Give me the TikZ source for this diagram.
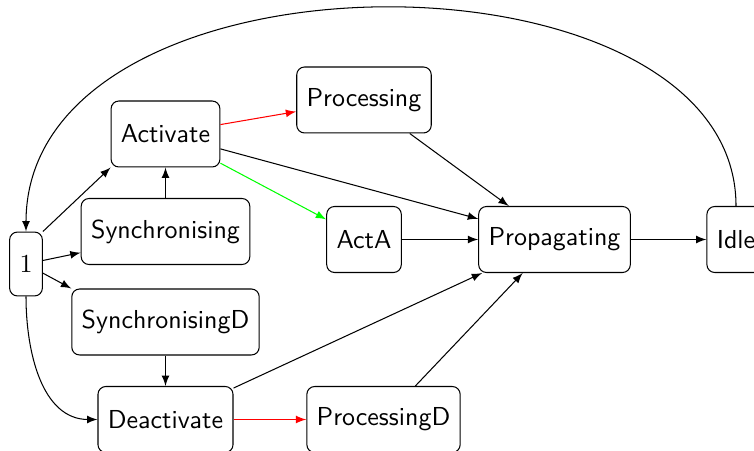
\documentclass[tikz,border=0pt]{standalone}
\usetikzlibrary{arrows}
\begin{document}
\begin{tikzpicture}[x=0.385pt,y=-0.385pt,
  state/.style={draw,rounded corners=3pt,minimum height=25.4pt,inner xsep=3.8pt,font=\sffamily},
  edge/.style={draw,-latex},
  redge/.style={draw=red,-latex},
  gedge/.style={draw=green,-latex}]
\useasboundingbox (0,0) rectangle (754,451);
\node[state] (n1) at (26,264) [minimum height=24.6pt] {$1$};
\node[state] (Activate) at (165.5,134) {Activate};
\node[state] (Sync) at (165.5,231.5) {Synchronising};
\node[state] (SyncD) at (165.5,322) {SynchronisingD};
\node[state] (Deact) at (165.5,419.5) {Deactivate};
\node[state] (Proc) at (364,100) {Processing};
\node[state] (ActA) at (364,239.5) {ActA};
\node[state] (ProcD) at (383.5,419.5) {ProcessingD};
\node[state] (Prop) at (554.5,239.5) {Propagating};
\node[state] (Idle) at (736,239.5) {Idle};

\draw[edge] (n1.north east) -- (Activate.south west);
\draw[edge] (n1) -- (Sync.194);
\draw[edge] (n1) -- (SyncD.north west);
\draw[edge] (n1.south) to[out=-90,in=180] (Deact.west);
\draw[edge] (Idle.north) .. controls +(0,-268) and +(0,-294) .. (n1.north);
\draw[edge] (Sync) -- (Activate);
\draw[edge] (SyncD) -- (Deact);
\draw[redge] (Activate) -- (Proc);
\draw[edge] (Activate) -- (Prop);
\draw[gedge] (Activate) -- (ActA);
\draw[edge] (ActA) -- (Prop);
\draw[edge] (Proc) -- (Prop);
\draw[edge] (Prop) -- (Idle);
\draw[edge] (Deact) -- (Prop);
\draw[edge] (ProcD) -- (Prop);
\draw[redge] (Deact) -- (ProcD);
\end{tikzpicture}
\end{document}
